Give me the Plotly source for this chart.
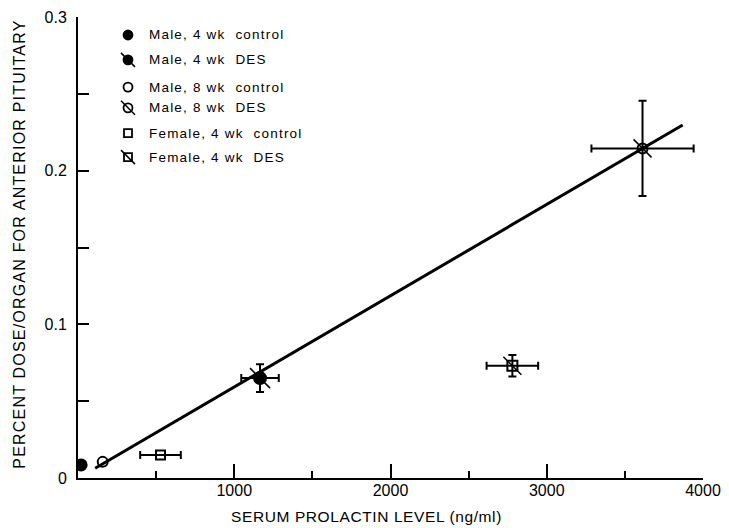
import plotly.graph_objects as go

# ---- data ----
series_names = ["Male, 4 wk  control", "Male, 4 wk  DES", "Male, 8 wk  control",
                "Male, 8 wk  DES", "Female, 4 wk  control", "Female, 4 wk  DES"]
prolactin = [20, 1165, 158, 3613, 528, 2780]
prolactin_err = [0, 120, 0, 327, 130, 165]
dose = [0.0085, 0.065, 0.0105, 0.2145, 0.015, 0.073]
dose_err = [0, 0.009, 0, 0.031, 0, 0.007]
fit_x = [110, 3870]
fit_y = [0.0063, 0.2297]

x_tickvals = [1000, 2000, 3000, 4000]
x_ticktext = ["1000", "2000", "3000", "4000"]
y_tickvals = [0, 0.1, 0.2, 0.3]
y_ticktext = ["0", "0.1", "0.2", "0.3"]

# style per series
symbols = ["circle", "circle", "circle-open", "circle-open", "square-open", "square-open"]
slashed = [False, True, False, True, False, True]
sizes = [11, 12, 10, 10, 9, 10]

FONT = "Liberation Sans, Arial, sans-serif"
fig = go.Figure()

fig.add_trace(go.Scatter(x=fit_x, y=fit_y, mode="lines",
                         line=dict(color="black", width=3), showlegend=False, hoverinfo="skip"))

for i, name in enumerate(series_names):
    fig.add_trace(go.Scatter(
        x=[prolactin[i]], y=[dose[i]], mode="markers", name=name, showlegend=False,
        marker=dict(symbol=symbols[i], size=sizes[i], color="black",
                    line=dict(color="black", width=2)),
        error_x=dict(type="data", array=[prolactin_err[i]], visible=prolactin_err[i] > 0,
                     color="black", thickness=2, width=4),
        error_y=dict(type="data", array=[dose_err[i]], visible=dose_err[i] > 0,
                     color="black", thickness=2, width=4),
    ))
    if slashed[i]:
        fig.add_trace(go.Scatter(
            x=[prolactin[i]], y=[dose[i]], mode="markers", showlegend=False, hoverinfo="skip",
            marker=dict(symbol="line-nw", size=sizes[i] + 8, color="black",
                        line=dict(color="black", width=1.5))))

# ---- hand-drawn legend in an overlay frame ----
leg_y = [0.961, 0.907, 0.848, 0.803, 0.748, 0.696]
for i, name in enumerate(series_names):
    fig.add_trace(go.Scatter(
        x=[0.08], y=[leg_y[i]], xaxis="x2", yaxis="y2", mode="markers", showlegend=False,
        hoverinfo="skip",
        marker=dict(symbol=symbols[i], size=9 if "circle" in symbols[i] else 8, color="black",
                    line=dict(color="black", width=1.8))))
    if slashed[i]:
        fig.add_trace(go.Scatter(
            x=[0.08], y=[leg_y[i]], xaxis="x2", yaxis="y2", mode="markers", showlegend=False,
            hoverinfo="skip",
            marker=dict(symbol="line-nw", size=14, color="black",
                        line=dict(color="black", width=1.5))))
    fig.add_annotation(x=0.11, y=leg_y[i], xref="paper", yref="paper",
                       text='<span style="letter-spacing:1.2px">' + name + '</span>',
                       showarrow=False, xanchor="left", yanchor="middle",
                       font=dict(family=FONT, size=13.5, color="black"))

# axis titles as annotations (precise placement)
fig.add_annotation(x=-0.093, y=0.508, xref="paper", yref="paper", textangle=-90,
                   text='<span style="letter-spacing:1.2px">PERCENT DOSE/ORGAN FOR ANTERIOR PITUITARY</span>',
                   showarrow=False, xanchor="center", yanchor="middle",
                   font=dict(family=FONT, size=16, color="black"))
fig.add_annotation(x=0.461, y=-0.084, xref="paper", yref="paper",
                   text='<span style="letter-spacing:0.6px">SERUM PROLACTIN LEVEL (ng/ml)</span>',
                   showarrow=False, xanchor="center", yanchor="middle",
                   font=dict(family=FONT, size=15.5, color="black"))

# the page body has an 8px margin: plot area placed so it lands at the reference's pixels
fig.update_layout(
    width=729, height=528,
    margin=dict(l=70, r=34, t=9, b=58, autoexpand=False),
    paper_bgcolor="white", plot_bgcolor="white",
    font=dict(family=FONT, color="black"),
    showlegend=False,
    xaxis=dict(range=[0, 4000], showline=True, linecolor="black", linewidth=2, automargin=False,
               showgrid=False, zeroline=False, ticks="inside", ticklen=14, tickwidth=2,
               tickcolor="black", tickvals=x_tickvals, ticktext=x_ticktext,
               tickfont=dict(size=16, family=FONT), ticklabelstandoff=-3,
               minor=dict(tickvals=[500, 1500, 2500, 3500], ticks="inside", ticklen=7,
                          tickwidth=2, tickcolor="black", showgrid=False)),
    yaxis=dict(range=[0, 0.3], showline=True, linecolor="black", linewidth=2, automargin=False,
               showgrid=False, zeroline=False, ticks="inside", ticklen=11, tickwidth=2,
               tickcolor="black", tickvals=y_tickvals, ticktext=y_ticktext,
               tickfont=dict(size=16, family=FONT), ticklabelstandoff=6,
               minor=dict(tickvals=[0.05, 0.15, 0.25], ticks="inside", ticklen=11,
                          tickwidth=2, tickcolor="black", showgrid=False)),
    xaxis2=dict(range=[0, 1], overlaying="x", visible=False, fixedrange=True),
    yaxis2=dict(range=[0, 1], overlaying="y", visible=False, fixedrange=True),
)

fig.write_html("out.html")
